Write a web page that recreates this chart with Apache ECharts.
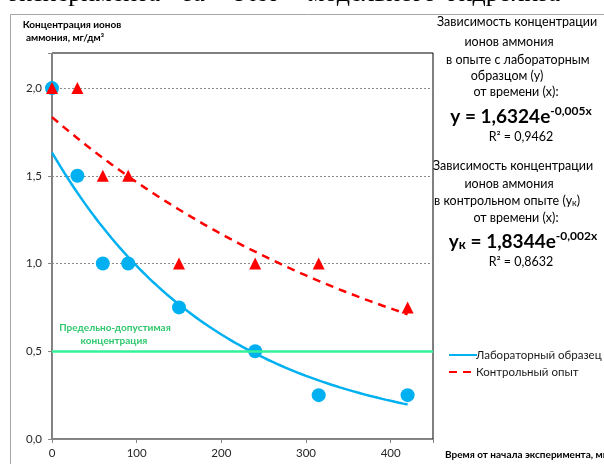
<!DOCTYPE html>
<html>
<head>
<meta charset="utf-8">
<style>
  html, body { margin: 0; padding: 0; background: #fff; }
  #chart { width: 604px; height: 464px; }
</style>
<script src="https://cdn.jsdelivr.net/npm/echarts@6/dist/echarts.min.js"></script>
</head>
<body>
<div id="chart"></div>
<script>
// Время отбора проб, мин
const timeMin = [0, 30, 60, 90, 150, 240, 315, 420];
// Концентрация ионов аммония, мг/дм3 — опыт с лабораторным образцом
const labSample = [2.0, 1.5, 1.0, 1.0, 0.75, 0.5, 0.25, 0.25];
// Концентрация ионов аммония, мг/дм3 — контрольный опыт
const controlRun = [2.0, 2.0, 1.5, 1.5, 1.0, 1.0, 1.0, 0.75];
// Предельно-допустимая концентрация, мг/дм3
const pdkLevel = 0.5;

const FONT = 'Lato, "Open Sans", sans-serif';
const BLUE = '#00B0F0';
const RED = '#FF0000';

// Экспоненциальная линия тренда y = a·e^(k·x): МНК по ln(y)
function expFit(xs, ys) {
  const n = xs.length;
  const ly = ys.map(Math.log);
  const mx = xs.reduce((s, v) => s + v, 0) / n;
  const my = ly.reduce((s, v) => s + v, 0) / n;
  let sxy = 0, sxx = 0;
  for (let i = 0; i < n; i++) {
    sxy += (xs[i] - mx) * (ly[i] - my);
    sxx += (xs[i] - mx) * (xs[i] - mx);
  }
  const k = sxy / sxx;
  return { a: Math.exp(my - k * mx), k: k };
}
function trendPoints(fit, x0, x1, step) {
  const pts = [];
  for (let x = x0; x <= x1 + 1e-9; x += step) pts.push([x, fit.a * Math.exp(fit.k * x)]);
  return pts;
}
const labFit = expFit(timeMin, labSample);
const ctrlFit = expFit(timeMin, controlRun);
const xEnd = timeMin[timeMin.length - 1];

const pairs = (ys) => timeMin.map((t, i) => [t, ys[i]]);

const txt = (s, x, y, extra) => ({
  type: 'text', x: x, y: y,
  style: Object.assign({ text: s, font: '12.5px ' + FONT, fill: '#000',
    textAlign: 'center', textVerticalAlign: 'middle' }, extra || {})
});
const serif = (s, x, align) => txt(s, x, 7, {
  font: '26px "Liberation Serif", serif', fill: '#000', textAlign: align, textVerticalAlign: 'bottom'
});

const eqRich = {
  b: { fontFamily: FONT, fontSize: 19, fontWeight: 'bold', color: '#000', lineHeight: 22, verticalAlign: 'bottom' },
  k: { fontFamily: FONT, fontSize: 13, fontWeight: 'bold', color: '#000', lineHeight: 22, verticalAlign: 'bottom' },
  s: { fontFamily: FONT, fontSize: 12, fontWeight: 'bold', color: '#000', lineHeight: 22, verticalAlign: 'top', padding: [1, 0, 0, 0] }
};
const subRich = {
  n: { fontFamily: FONT, fontSize: 12.5, color: '#000' },
  k: { fontFamily: FONT, fontSize: 9, color: '#000', padding: [4, 0, 0, 0] }
};

const chart = echarts.init(document.getElementById('chart'));
chart.setOption({
  animation: false,
  backgroundColor: '#fff',
  grid: { left: 52, top: 53, right: 171, bottom: 25, show: true, borderColor: '#000', borderWidth: 1 },
  xAxis: {
    type: 'value', min: 0, max: 450, interval: 100,
    axisLine: { lineStyle: { color: '#868686', width: 1 } },
    axisTick: { show: true, length: 4, lineStyle: { color: '#868686' } },
    axisLabel: { fontFamily: FONT, fontSize: 11.5, color: '#262626', margin: 8,
      formatter: v => (v % 100 === 0 ? String(v) : '') },
    splitLine: { show: false }
  },
  yAxis: {
    type: 'value', min: 0, max: 2.2, interval: 0.5,
    axisLine: { show: true, lineStyle: { color: '#868686', width: 1 } },
    axisTick: { show: true, length: 4, lineStyle: { color: '#868686' } },
    axisLabel: { fontFamily: FONT, fontSize: 11.5, color: '#262626', margin: 10,
      formatter: v => (Math.abs(v * 2 - Math.round(v * 2)) < 1e-9 ? v.toFixed(1).replace('.', ',') : '') },
    splitLine: { show: true, showMinLine: false, showMaxLine: false,
      lineStyle: { color: '#8c8c8c', width: 1, type: [2, 2] } }
  },
  legend: {
    left: 443, top: 344, orient: 'vertical', itemWidth: 28, itemHeight: 10, itemGap: 5,
    itemStyle: { opacity: 0 },
    textStyle: { fontFamily: FONT, fontSize: 11.5, color: '#1a1a1a', padding: [0, 0, 0, -6] },
    data: ['Лабораторный образец', 'Контрольный опыт']
  },
  series: [
    {
      name: 'ПДК', type: 'line', data: [], silent: true,
      markLine: {
        silent: true, symbol: 'none', label: { show: false },
        lineStyle: { color: '#33F29A', width: 2.5, type: 'solid' },
        data: [{ yAxis: pdkLevel }]
      }
    },
    {
      name: 'Лабораторный образец', type: 'line', data: trendPoints(labFit, 0, xEnd, 5),
      symbol: 'none', smooth: false, z: 3,
      lineStyle: { color: BLUE, width: 2.5 }, itemStyle: { color: BLUE }
    },
    {
      name: 'Контрольный опыт', type: 'line', data: trendPoints(ctrlFit, 0, xEnd, 5),
      symbol: 'none', smooth: false, z: 3,
      lineStyle: { color: RED, width: 2.5, type: [8, 6] }, itemStyle: { color: RED }
    },
    {
      name: 'lab', type: 'scatter', data: pairs(labSample), symbol: 'circle', symbolSize: 14, z: 4,
      itemStyle: { color: BLUE, opacity: 1 }
    },
    {
      name: 'ctrl', type: 'scatter', data: pairs(controlRun), symbol: 'triangle', symbolSize: 12, z: 5,
      itemStyle: { color: RED, opacity: 1 }
    }
  ],
  graphic: [
    // рамка области диаграммы
    { type: 'line', shape: { x1: 10.5, y1: 14.5, x2: 604, y2: 14.5 }, style: { stroke: '#a6a6a6', lineWidth: 1 } },
    { type: 'line', shape: { x1: 10.5, y1: 14.5, x2: 10.5, y2: 464 }, style: { stroke: '#a6a6a6', lineWidth: 1 } },
    // строка текста документа над диаграммой
    serif('экспериментa', 160, 'right'),
    serif('за', 183, 'left'),
    serif('счет', 232, 'left'),
    serif('модельного', 308, 'left'),
    serif('гидролиза', 448, 'left'),
    // подписи осей
    txt('Концентрация ионов', 72, 25, { font: 'bold 10px ' + FONT }),
    txt('аммония, мг/дм³', 65, 38, { font: 'bold 10px ' + FONT }),
    txt('Время от начала эксперимента, мин', 445, 455, { font: 'bold 10px ' + FONT, textAlign: 'left' }),
    // ПДК
    txt('Предельно-допустимая', 115, 328, { font: 'bold 10px ' + FONT, fill: '#2FC86E' }),
    txt('концентрация', 114, 341, { font: 'bold 10px ' + FONT, fill: '#2FC86E' }),
    // уравнение тренда — лабораторный образец
    txt('Зависимость концентрации', 437, 22, { textAlign: 'left' }),
    txt('ионов аммония', 509, 42),
    txt('в опыте с лабораторным', 446, 60, { textAlign: 'left' }),
    txt('образцом (у)', 507, 76),
    txt('от времени (х):', 516, 92),
    { type: 'text', x: 521, y: 115, style: { text: '{b|y = 1,6324e}{s|-0,005x}', rich: eqRich, textAlign: 'center', textVerticalAlign: 'middle' } },
    txt('R² = 0,9462', 521, 137),
    // уравнение тренда — контрольный опыт
    txt('Зависимость концентрации', 433, 166, { textAlign: 'left' }),
    txt('ионов аммония', 509, 184),
    { type: 'text', x: 434, y: 201, style: { text: '{n|в контрольном опыте (y}{k|к}{n|)}', rich: subRich, textAlign: 'left', textVerticalAlign: 'middle' } },
    txt('от времени (х):', 516, 218),
    { type: 'text', x: 523, y: 240, style: { text: '{b|y}{k|к}{b| = 1,8344e}{s|-0,002x}', rich: eqRich, textAlign: 'center', textVerticalAlign: 'middle' } },
    txt('R² = 0,8632', 521, 262)
  ]
});
</script>
</body>
</html>
